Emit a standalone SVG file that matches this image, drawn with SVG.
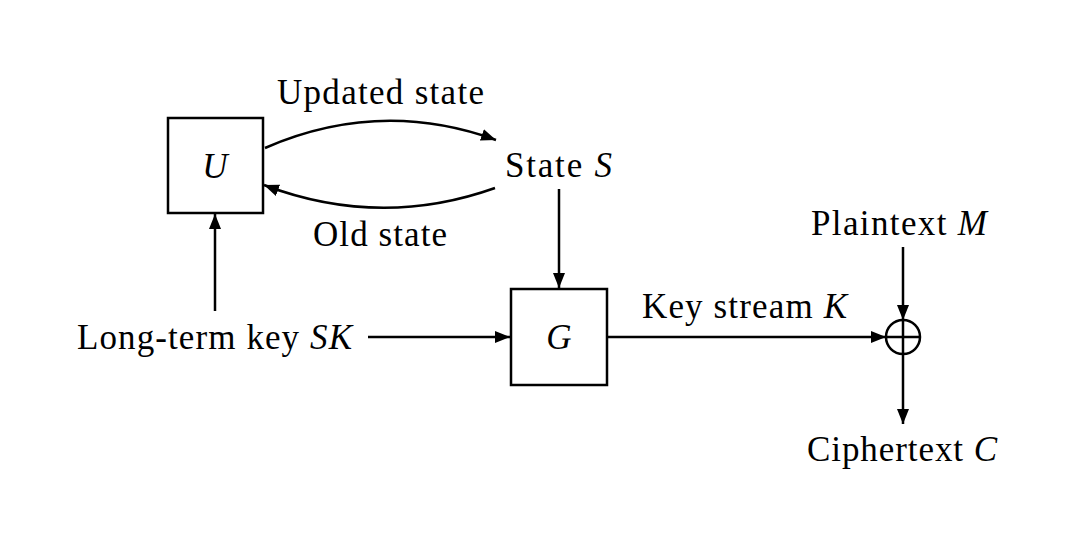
<svg xmlns="http://www.w3.org/2000/svg" width="1082" height="540" viewBox="0 0 1082 540">
<style>
text{font-family:"Liberation Serif","Times New Roman",serif;font-size:35px;fill:#000}
.m{font-style:italic}
.box{fill:#fff;stroke:#000;stroke-width:2.5}
.c{fill:none;stroke:#000;stroke-width:2.5}
</style>
<defs>
<marker id="ah" markerUnits="userSpaceOnUse" markerWidth="17" markerHeight="14" refX="15" refY="7" orient="auto">
<path d="M0,1 L15,7 L0,13 z" fill="#000"/>
</marker>
</defs>
<rect width="1082" height="540" fill="#fff"/>
<g id="connectors">
<path class="c" d="M265,148 Q380,98 496,140" marker-end="url(#ah)"/>
<path class="c" d="M495,188 Q380,229 264,185" marker-end="url(#ah)"/>
<line class="c" x1="559" y1="189" x2="559" y2="288" marker-end="url(#ah)"/>
<line class="c" x1="215" y1="311" x2="215" y2="214" marker-end="url(#ah)"/>
<line class="c" x1="368" y1="337" x2="510" y2="337" marker-end="url(#ah)"/>
<line class="c" x1="607" y1="337" x2="886" y2="337" marker-end="url(#ah)"/>
<line class="c" x1="903" y1="247" x2="903" y2="320" marker-end="url(#ah)"/>
<line class="c" x1="903" y1="354" x2="903" y2="424" marker-end="url(#ah)"/>
</g>
<g id="U">
<rect class="box" x="168" y="118" width="95" height="95"/>
<text x="215" y="178" text-anchor="middle" class="m">U</text>
</g>
<g id="G">
<rect class="box" x="511" y="289" width="96" height="96"/>
<text x="559" y="349" text-anchor="middle" class="m">G</text>
</g>
<g id="xor">
<circle class="c" cx="903" cy="337" r="17"/>
<line class="c" x1="886" y1="337" x2="920" y2="337"/>
<line class="c" x1="903" y1="320" x2="903" y2="354"/>
</g>
<g id="state">
<text x="505" y="177" textLength="107">State <tspan class="m">S</tspan></text>
</g>
<g id="longterm">
<text x="77" y="349" textLength="275">Long-term key <tspan class="m">SK</tspan></text>
</g>
<g id="plaintext">
<text x="811" y="235" textLength="176">Plaintext <tspan class="m">M</tspan></text>
</g>
<g id="ciphertext">
<text x="807" y="461" textLength="190">Ciphertext <tspan class="m">C</tspan></text>
</g>
<g id="labels">
<text x="277" y="104" textLength="207">Updated state</text>
<text x="313" y="246" textLength="134">Old state</text>
<text x="642" y="318" textLength="205">Key stream <tspan class="m">K</tspan></text>
</g>
</svg>
